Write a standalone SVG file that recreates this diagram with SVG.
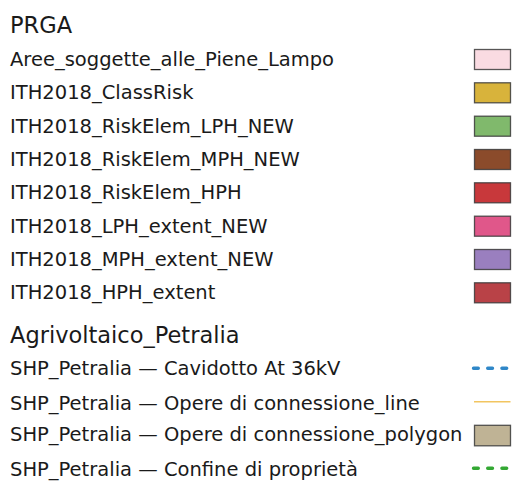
<svg xmlns="http://www.w3.org/2000/svg" width="513" height="482" viewBox="0 0 513 482">
<style>
text{font-family:"DejaVu Sans",Verdana,sans-serif;fill:#1a1a1a}
.t{font-size:22.5px}
.i{font-size:19.5px}
.sw{stroke:#3a3a3a;stroke-opacity:0.85;stroke-width:1.3}
.dash{stroke-width:3.4;stroke-dasharray:4.8,9.4;stroke-linecap:round}
</style>
<rect width="513" height="482" fill="#ffffff"/>
<g id="group-prga">
<text class="t" x="10" y="33.3">PRGA</text>
</g>
<g id="item-aree"><text class="i" x="10" y="66">Aree_soggette_alle_Piene_Lampo</text><rect class="sw" x="474.5" y="49.5" width="36" height="20" fill="#fadbe2" stroke-opacity="0.3"/></g>
<g id="item-classrisk"><text class="i" x="10" y="99.3">ITH2018_ClassRisk</text><rect class="sw" x="474.5" y="82.8" width="36" height="20" fill="#d8b33b"/></g>
<g id="item-riskelem-lph"><text class="i" x="10" y="132.7">ITH2018_RiskElem_LPH_NEW</text><rect class="sw" x="474.5" y="116.2" width="36" height="20" fill="#80b96c"/></g>
<g id="item-riskelem-mph"><text class="i" x="10" y="166">ITH2018_RiskElem_MPH_NEW</text><rect class="sw" x="474.5" y="149.5" width="36" height="20" fill="#8b4b2b"/></g>
<g id="item-riskelem-hph"><text class="i" x="10" y="199.3">ITH2018_RiskElem_HPH</text><rect class="sw" x="474.5" y="182.8" width="36" height="20" fill="#c8383b"/></g>
<g id="item-lph-extent"><text class="i" x="10" y="232.7">ITH2018_LPH_extent_NEW</text><rect class="sw" x="474.5" y="216.2" width="36" height="20" fill="#e0578a"/></g>
<g id="item-mph-extent"><text class="i" x="10" y="266">ITH2018_MPH_extent_NEW</text><rect class="sw" x="474.5" y="249.5" width="36" height="20" fill="#9a7fbf"/></g>
<g id="item-hph-extent"><text class="i" x="10" y="299.3">ITH2018_HPH_extent</text><rect class="sw" x="474.5" y="282.8" width="36" height="20" fill="#b94247"/></g>
<g id="group-agrivoltaico">
<text class="t" x="10" y="343.3">Agrivoltaico_Petralia</text>
</g>
<g id="item-cavidotto"><text class="i" x="10" y="375">SHP_Petralia — Cavidotto At 36kV</text><line class="dash" x1="473.5" y1="368.3" x2="508" y2="368.3" stroke="#2f87c8"/></g>
<g id="item-opere-line"><text class="i" x="10" y="410">SHP_Petralia — Opere di connessione_line</text><line x1="474" y1="401.7" x2="510.5" y2="401.7" stroke="#f2c560" stroke-width="1.4"/></g>
<g id="item-opere-polygon"><text class="i" x="10" y="441">SHP_Petralia — Opere di connessione_polygon</text><rect class="sw" x="474.5" y="425.3" width="36" height="20.5" fill="#bfb395"/></g>
<g id="item-confine"><text class="i" x="10" y="475.5">SHP_Petralia — Confine di proprietà</text><line class="dash" x1="473.5" y1="468.3" x2="508" y2="468.3" stroke="#33a833"/></g>
</svg>
